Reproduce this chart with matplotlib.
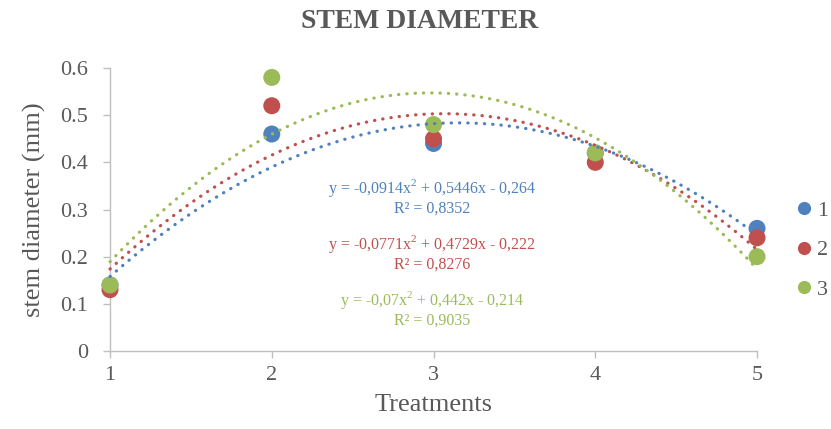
import numpy as np
import matplotlib
matplotlib.use("Agg")
import matplotlib.pyplot as plt
from matplotlib.lines import Line2D

# ---- data ----
treatments = [1, 2, 3, 4, 5]
series_names = ["1", "2", "3"]
series_1 = [0.14, 0.46, 0.44, 0.42, 0.26]
series_2 = [0.13, 0.52, 0.45, 0.40, 0.24]
series_3 = [0.14, 0.58, 0.48, 0.42, 0.20]
# polynomial trendline coefficients (a, b, c) for each drawn curve
trend_1 = [-0.07, 0.442, -0.214]
trend_2 = [-0.0771, 0.4729, -0.222]
trend_3 = [-0.0914, 0.5446, -0.264]
# equation labels as printed on the chart
eq_labels = [
    "y = -0,0914x$^2$ + 0,5446x - 0,264\nR² = 0,8352",
    "y = -0,0771x$^2$ + 0,4729x - 0,222\nR² = 0,8276",
    "y = -0,07x$^2$ + 0,442x - 0,214\nR² = 0,9035",
]
yticks = [0, 0.1, 0.2, 0.3, 0.4, 0.5, 0.6]
ytick_labels = ["0", "0.1", "0.2", "0.3", "0.4", "0.5", "0.6"]

colors = ["#4F81BD", "#C0504D", "#9BBB59"]
gray = "#595959"

plt.rcParams["font.family"] = ["Liberation Serif", "DejaVu Serif"]
plt.rcParams["mathtext.fontset"] = "custom"
plt.rcParams["mathtext.rm"] = "Liberation Serif"

fig = plt.figure(figsize=(8.31, 4.29), dpi=100)
ax = fig.add_axes([0.1324, 0.1818, 0.7786, 0.6597])

all_series = [series_1, series_2, series_3]
trends = [trend_1, trend_2, trend_3]
for i, s in enumerate(all_series):
    ax.scatter(treatments, s, s=150, color=colors[i], zorder=3 + i,
               edgecolors="none", clip_on=False)

xx = np.linspace(treatments[0], treatments[-1], 300)
for i, t in enumerate(trends):
    yy = np.polyval(t, xx)
    ax.plot(xx, yy, color=colors[i], lw=2.3, linestyle=(0, (0.1, 2.5)),
            dash_capstyle="round", zorder=7, clip_on=False)

ax.set_xlim(1, 5)
ax.set_ylim(0, 0.6)
ax.set_xticks(treatments)
ax.set_xticklabels([str(t) for t in treatments])
ax.set_yticks(yticks)
ax.set_yticklabels(ytick_labels)

for sp in ["top", "right"]:
    ax.spines[sp].set_visible(False)
for sp in ["left", "bottom"]:
    ax.spines[sp].set_color("#BFBFBF")
    ax.spines[sp].set_linewidth(1.0)
ax.tick_params(axis="both", colors="#BFBFBF", labelcolor=gray, labelsize=16,
               length=5, width=1.0, direction="out")
ax.tick_params(axis="y", pad=11)
ax.tick_params(axis="x", pad=6)

ax.set_xlabel("Treatments", fontsize=19, color=gray, labelpad=6)
ax.set_ylabel("stem diameter (mm)", fontsize=19, color=gray, labelpad=10)
fig.text(420 / 831, 1 - 21 / 429, "STEM DIAMETER", ha="center", va="center",
         fontsize=20, fontweight="bold", color=gray)

eq_pos = [(432, 197), (432, 253), (432, 309)]
for (px, py), txt, c in zip(eq_pos, eq_labels, colors):
    fig.text(px / 831, 1 - py / 429, txt, ha="center", va="center",
             fontsize=11.5, color=c, linespacing=1.15)

handles = [Line2D([], [], linestyle="none", marker="o", markersize=9.5,
                  markerfacecolor=c, markeredgecolor="none") for c in colors]
leg = fig.legend(handles, series_names, loc="center left",
                 bbox_to_anchor=(795 / 831, 1 - 250 / 429), frameon=False,
                 fontsize=16, handlelength=0.8, handletextpad=0.2,
                 labelspacing=0.85, borderaxespad=0, borderpad=0)
for t in leg.get_texts():
    t.set_color(gray)

fig.savefig("out.png", dpi=100)
